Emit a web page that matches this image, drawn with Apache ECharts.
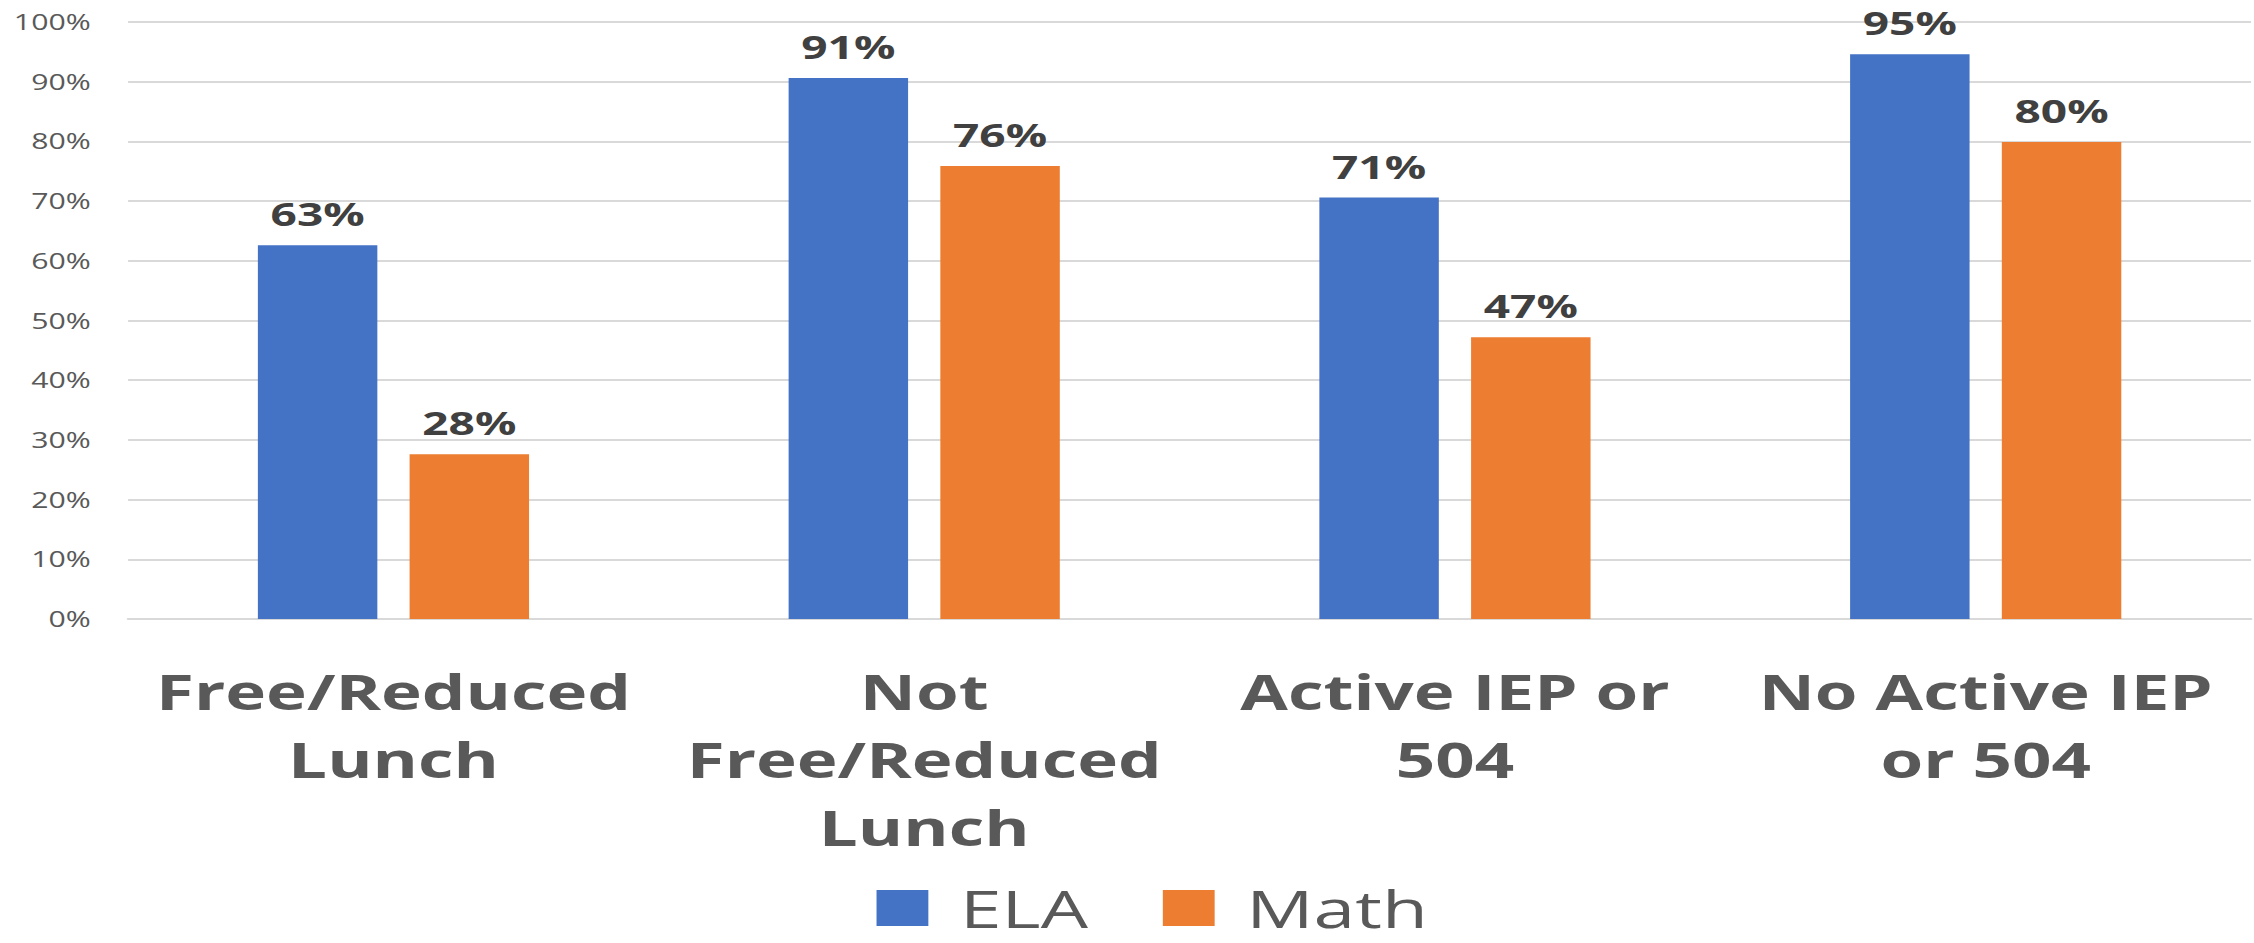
<!DOCTYPE html>
<html>
<head>
<meta charset="utf-8">
<script src="https://cdn.jsdelivr.net/npm/echarts@6/dist/echarts.min.js"></script>
<style>
    html, body {
        margin: 0;
        padding: 0;
        background: #fff;
        overflow: hidden;
    }
    /* the reference picture is stretched sideways, so the chart is drawn narrow and widened */
    #chart {
        width: 1566px;
        height: 943px;
        transform: scaleX(1.4393);
        transform-origin: 0 0;
    }
</style>
</head>
<body>
<div id="chart"></div>
<script>
const categories = ['Free/Reduced\nLunch', 'Not\nFree/Reduced\nLunch', 'Active IEP or\n504', 'No Active IEP\nor 504']
const elaValues = [62.6, 90.6, 70.6, 94.6]
const mathValues = [27.6, 75.9, 47.2, 79.9]
const seriesNames = ['ELA', 'Math']
const seriesColors = ['#4472C4', '#ED7D31']

const chart = echarts.init(document.getElementById('chart'), null, { renderer: 'svg' })

const valueLabel = {
    show: true,
    position: 'top',
    distance: 15,
    fontFamily: 'Open Sans',
    fontWeight: 'bold',
    fontSize: 32,
    color: '#404040',
    formatter: (p) => Math.round(p.value) + '%'
}

chart.setOption({
    animation: false,
    color: seriesColors,
    grid: {
        left: 89,
        right: 2,
        top: 22,
        bottom: 324,
        containLabel: false
    },
    legend: {
        left: 604,
        top: 877,
        itemWidth: 36,
        itemHeight: 36,
        itemGap: 52,
        icon: 'rect',
        textStyle: {
            fontFamily: 'Open Sans',
            fontSize: 52,
            lineHeight: 52,
            color: '#595959',
            padding: [0, 0, 0, 17]
        },
        data: seriesNames
    },
    xAxis: {
        type: 'category',
        data: categories,
        axisTick: { show: false },
        axisLine: { lineStyle: { color: '#d9d9d9', width: 2 } },
        axisLabel: {
            interval: 0,
            margin: 38,
            fontFamily: 'Open Sans',
            fontWeight: 'bold',
            fontSize: 48,
            lineHeight: 68,
            color: '#595959',
            align: 'center'
        }
    },
    yAxis: {
        type: 'value',
        min: 0,
        max: 100,
        interval: 10,
        axisLine: { show: false },
        axisTick: { show: false },
        splitLine: { lineStyle: { color: '#d9d9d9', width: 2 } },
        axisLabel: {
            formatter: '{value}%',
            margin: 26,
            fontFamily: 'Open Sans',
            fontSize: 21,
            color: '#595959'
        }
    },
    series: [
        {
            name: seriesNames[0],
            type: 'bar',
            barWidth: 83,
            barGap: '27%',
            data: elaValues,
            label: valueLabel
        },
        {
            name: seriesNames[1],
            type: 'bar',
            barWidth: 83,
            barGap: '27%',
            data: mathValues,
            label: valueLabel
        }
    ]
})
</script>
</body>
</html>
